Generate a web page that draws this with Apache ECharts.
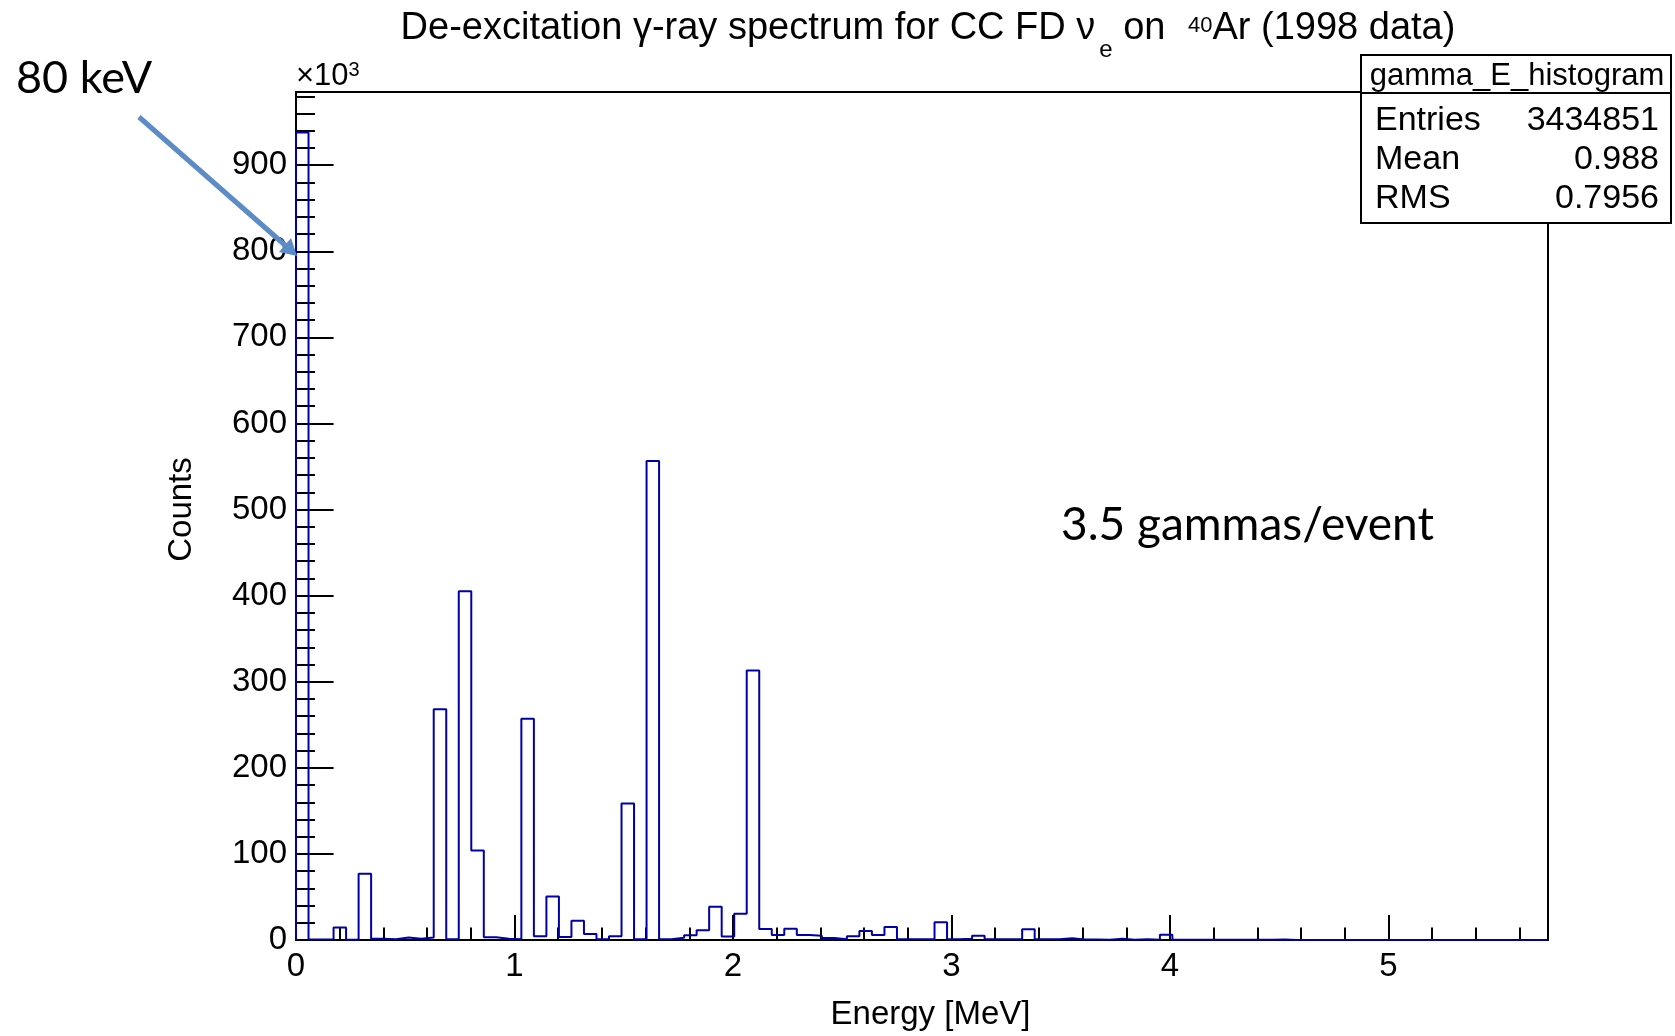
<!DOCTYPE html>
<html>
<head>
<meta charset="utf-8">
<script src="https://cdn.jsdelivr.net/npm/echarts@6/dist/echarts.min.js"></script>
<style>
html,body{margin:0;padding:0;background:#fff;}
#chart{width:1675px;height:1036px;}
</style>
</head>
<body>
<div id="chart"></div>
<script>
// ---- data (counts in units of 10^3) ----
const binWidth = 0.0573;   // MeV, 100 bins
const xMin = 0;
const xMax = 5.73;
const counts = [
  938, 0.5, 0.5, 14.5, 0.3, 77, 1.5, 1, 3, 1.5,
  3, 268, 0.8, 405, 104, 3.2, 1.5, 0.8, 257, 4.3,
  50.5, 3.5, 22.5, 7, 1, 4.3, 158.5, 0.8, 556.5, 1,
  2.7, 5.4, 11.2, 38.5, 4, 30.5, 313, 12.8, 5.8, 13,
  5.8, 5, 2.3, 0.8, 4.3, 10.4, 5.8, 15, 0.8, 0.8,
  0.8, 20.5, 0.8, 1.5, 5, 0.8, 0.8, 0.8, 12.4, 0.8,
  0.8, 1.9, 0.5, 0.5, 0.3, 1.5, 0.3, 1, 0.3, 6.2,
  0.3, 0.3, 0.2, 0.2, 0.2, 0.2, 0.2, 0.2, 0.5, 0,
  0, 0, 0, 0, 0, 0, 0, 0, 0, 0,
  0, 0, 0, 0, 0, 0, 0, 0, 0, 0
];
const yMax = 985;
const yTickLabels = ['0','100','200','300','400','500','600','700','800','900'];
const xTickLabels = ['0','1','2','3','4','5'];
const statLabels = ['Entries', 'Mean', 'RMS'];
const statValues = ['3434851', '0.988', '0.7956'];
const statTitle = 'gamma_E_histogram';

// ---- build step outline from the bins ----
const steps = [[xMin, 0]];
counts.forEach((c, i) => {
  const lo = xMin + i * binWidth;
  const hi = lo + binWidth;
  steps.push([lo, c], [hi, c]);
});
steps.push([xMin + counts.length * binWidth, 0]);

const FONT = "'Liberation Sans', Arial, Helvetica, sans-serif";
const ANNOT = "Lato, 'Open Sans', sans-serif";
const BLACK = '#000';

const chart = echarts.init(document.getElementById('chart'), null, {renderer: 'canvas'});

const baseX = {
  type: 'value', min: xMin, max: xMax, position: 'bottom',
  splitLine: {show: false}
};
const baseY = {
  type: 'value', min: 0, max: yMax, position: 'left',
  splitLine: {show: false}
};

const statsGraphic = [
  {type: 'rect', z: 100, shape: {x: 1361, y: 55, width: 310, height: 168},
   style: {fill: '#fff', stroke: BLACK, lineWidth: 2}},
  {type: 'line', z: 101, shape: {x1: 1361, y1: 93, x2: 1671, y2: 93},
   style: {stroke: BLACK, lineWidth: 2}},
  {type: 'text', z: 101, x: 1517, y: 76,
   style: {text: statTitle, align: 'center', verticalAlign: 'middle',
           fontSize: 31, fontFamily: FONT, fill: BLACK}}
];
const rowY = [121, 160, 199];
statLabels.forEach((lab, i) => {
  statsGraphic.push({type: 'text', z: 101, x: 1375, y: rowY[i],
    style: {text: lab, align: 'left', verticalAlign: 'middle', fontSize: 34, fontFamily: FONT, fill: BLACK}});
  statsGraphic.push({type: 'text', z: 101, x: 1659, y: rowY[i],
    style: {text: statValues[i], align: 'right', verticalAlign: 'middle', fontSize: 34, fontFamily: FONT, fill: BLACK}});
});

// annotations
const arrowColor = '#5b8cc6';
const annotGraphic = [
  {type: 'text', z: 50, x: 16, y: 78,
   style: {text: '80 keV', align: 'left', verticalAlign: 'middle', fontSize: 45, fontFamily: ANNOT, fill: BLACK}},
  {type: 'line', z: 50, shape: {x1: 139, y1: 117, x2: 286, y2: 246},
   style: {stroke: arrowColor, lineWidth: 5}},
  {type: 'polygon', z: 50, shape: {points: [[297, 256], [279, 252], [291, 238]]},
   style: {fill: arrowColor}},
  {type: 'text', z: 50, x: 1061, y: 525,
   style: {text: '3.5 gammas/event', align: 'left', verticalAlign: 'middle', fontSize: 46, fontFamily: ANNOT, fill: BLACK}}
];

const option = {
  animation: false,
  backgroundColor: '#fff',
  title: {
    text: '{a|De-excitation γ-ray spectrum for CC FD ν}{s|e}{a| on }{p|40}{a|Ar (1998 data)}',
    left: 923, top: 5, textAlign: 'center',
    textStyle: {
      fontWeight: 'normal',
      rich: {
        a: {fontSize: 38, fontFamily: FONT, fontWeight: 'normal', color: BLACK, lineHeight: 44, verticalAlign: 'top'},
        s: {fontSize: 24, fontFamily: FONT, fontWeight: 'normal', color: BLACK, lineHeight: 24, verticalAlign: 'top', padding: [28, 0, 0, 4]},
        p: {fontSize: 22, fontFamily: FONT, fontWeight: 'normal', color: BLACK, lineHeight: 22, verticalAlign: 'top', padding: [5, 0, 0, 12]}
      }
    }
  },
  grid: {left: 296, top: 92, width: 1252, height: 849, show: true,
         borderColor: BLACK, borderWidth: 2, backgroundColor: 'transparent'},
  xAxis: [
    Object.assign({}, baseX, {
      interval: 1,
      axisLine: {show: true, lineStyle: {color: BLACK, width: 2}},
      axisTick: {show: true, inside: true, length: 25, lineStyle: {color: BLACK, width: 2}},
      axisLabel: {show: true, color: BLACK, fontSize: 33, fontFamily: FONT, margin: 10,
                  showMaxLabel: false,
                  formatter: v => { const k = Math.round(v); return Math.abs(v - k) < 1e-6 && k < xTickLabels.length ? xTickLabels[k] : ''; }},
      name: 'Energy [MeV]', nameLocation: 'middle', nameGap: 58,
      nameTextStyle: {color: BLACK, fontSize: 33, fontFamily: FONT, padding: [0, 0, 0, 17]}
    }),
    Object.assign({}, baseX, {
      interval: 0.2,
      axisLine: {show: false},
      axisTick: {show: true, inside: true, length: 12.5, lineStyle: {color: BLACK, width: 2}},
      axisLabel: {show: false}
    })
  ],
  yAxis: [
    Object.assign({}, baseY, {
      interval: 100,
      axisLine: {show: true, lineStyle: {color: BLACK, width: 2}},
      axisTick: {show: true, inside: true, length: 37.6, lineStyle: {color: BLACK, width: 2}},
      axisLabel: {show: true, color: BLACK, fontSize: 33, fontFamily: FONT, margin: 9,
                  showMaxLabel: false,
                  formatter: v => { const k = Math.round(v / 100); return Math.abs(v - k * 100) < 1e-6 && k < yTickLabels.length ? yTickLabels[k] : ''; }},
      name: '{m|×10}{s|3}', nameLocation: 'end', nameGap: 0,
      nameTextStyle: {align: 'left', verticalAlign: 'bottom', color: BLACK,
        rich: {m: {fontSize: 31, fontFamily: FONT, color: BLACK, lineHeight: 32, verticalAlign: 'bottom'},
               s: {fontSize: 20, fontFamily: FONT, color: BLACK, lineHeight: 20, verticalAlign: 'top'}}}
    }),
    Object.assign({}, baseY, {
      interval: 20,
      axisLine: {show: false},
      axisTick: {show: true, inside: true, length: 19, lineStyle: {color: BLACK, width: 2}},
      axisLabel: {show: false},
      name: 'Counts', nameLocation: 'middle', nameGap: 98, nameRotate: 90,
      nameTextStyle: {color: BLACK, fontSize: 33, fontFamily: FONT, padding: [0, 0, 0, 13]}
    })
  ],
  series: [{
    type: 'line', xAxisIndex: 0, yAxisIndex: 0,
    data: steps, showSymbol: false, symbol: 'none',
    lineStyle: {color: '#0000a8', width: 2},
    clip: true, z: 3
  }],
  graphic: annotGraphic.concat(statsGraphic)
};
chart.setOption(option);
</script>
</body>
</html>
